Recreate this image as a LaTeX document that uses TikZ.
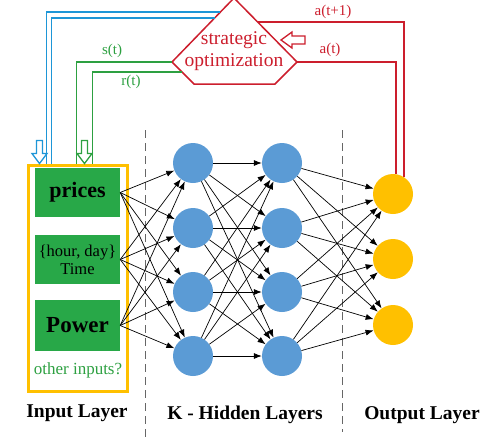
\documentclass[tikz,border=0pt]{standalone}
\usepackage{fontspec}
\setmainfont{Liberation Serif}
\usetikzlibrary{arrows.meta,calc,positioning}
\definecolor{optred}{RGB}{204,30,45}
\definecolor{fbblue}{RGB}{30,150,215}
\definecolor{fbgreen}{RGB}{45,160,65}
\definecolor{boxgreen}{RGB}{40,168,72}
\definecolor{hidblue}{RGB}{91,155,213}
\definecolor{outyellow}{RGB}{255,192,0}
\begin{document}
\begin{tikzpicture}[x=1pt,y=-1pt,
    neuron/.style={circle,fill=hidblue,minimum size=40pt,inner sep=0pt},
    outneuron/.style={neuron,fill=outyellow},
    inbox/.style={fill=boxgreen,minimum width=85pt,minimum height=49pt,inner sep=0pt,align=center},
    link/.style={-{Latex[length=8pt,width=6pt]},line width=0.7pt},
    layername/.style={font=\fontsize{19.5}{22}\selectfont\bfseries},
    fblabel/.style={font=\fontsize{15}{17}\selectfont},
    fbline/.style={line width=1.8pt}
  ]
  \useasboundingbox (0,0) rectangle (503,439);

  % layer separators
  \draw [dashed,gray!80!black,line width=0.8pt,dash pattern=on 8pt off 5pt]
    (145,130) -- (145,439)
    (342,130) -- (342,432);

  % input layer
  \node [draw=outyellow,line width=3pt,minimum width=99pt,minimum height=226pt] (inlayer) at (77.5,278) {};
  \node [inbox] (prices) at (77.5,192.5) {\fontsize{22}{24}\selectfont\bfseries prices};
  \node [inbox,font=\fontsize{16.5}{17}\selectfont] (time) at (77.5,259.5) {\{hour, day\}\\[1pt]Time};
  \node [inbox,minimum height=51pt] (power) at (77.5,325.5) {\fontsize{23}{25}\selectfont\bfseries Power};
  \node [text=fbgreen,font=\fontsize{17}{19}\selectfont] (other) at (78,370) {other inputs?};

  % hidden and output layers
  \foreach \y [count=\j] in {163,228,292,356} {
    \node [neuron] (h1-\j) at (193,\y) {};
    \node [neuron] (h2-\j) at (282,\y) {};
  }
  \foreach \y [count=\j] in {194,259,325}
    \node [outneuron] (o-\j) at (393,\y) {};

  \foreach \s in {prices,time,power}
    \foreach \j in {1,...,4}
      \draw [link] (\s.east) -- (h1-\j);
  \foreach \i in {1,...,4} {
    \foreach \j in {1,...,4}
      \draw [link] (h1-\i) -- (h2-\j);
    \foreach \j in {1,...,3}
      \draw [link] (h2-\i) -- (o-\j);
  }

  \node [layername] at (77,413) {Input Layer};
  \node [layername] at (245,415) {K - Hidden Layers};
  \node [layername] at (422,415) {Output Layer};

  % strategic optimization
  \draw [optred,line width=1.5pt]
    (234,-2) coordinate (optT)
    -- (297,62) coordinate (optR)
    -- (275,84) -- (194,84)
    -- (172,62) coordinate (optL) -- cycle;
  \node [text=optred,align=center,font=\fontsize{19.5}{22}\selectfont] (opt) at (234,51) {strategic\\optimization};
  \draw [optred,line width=1.3pt,fill=white]
    (281,40) coordinate (tipR) -- ++(11,-8) -- ++(0,4) -- ++(13,0) -- ++(0,8)
    -- ++(-13,0) -- ++(0,4) -- cycle;

  % feedback lines
  \draw [fbline,optred]
    (258,22) coordinate (aNext) -| (o-1.57)
    (optR) -| (o-1.81);
  \draw [fbline,fbblue]
    (220,12) coordinate (bOut) -| ($(inlayer.north west)+(20,0)$)
    (215,18) coordinate (bIn) -| ($(inlayer.north west)+(25,0)$);
  \draw [fbline,fbgreen]
    (optL) -| ($(inlayer.north west)+(50,0)$)
    (182,72) coordinate (rOut) -| ($(inlayer.north west)+(66,0)$);

  \draw [fbblue,line width=1.3pt,fill=white]
    ($(inlayer.north west)+(13,0)$) coordinate (tipB) -- ++(-7.5,-10) -- ++(4.5,0) -- ++(0,-13)
    -- ++(6,0) -- ++(0,13) -- ++(4.5,0) -- cycle;
  \draw [fbgreen,line width=1.3pt,fill=white]
    ($(inlayer.north west)+(58,0)$) coordinate (tipG) -- ++(-7.5,-10) -- ++(4.5,0) -- ++(0,-13)
    -- ++(6,0) -- ++(0,13) -- ++(4.5,0) -- cycle;

  \node [fblabel,text=optred] at (333,12) {a(t+1)};
  \node [fblabel,text=optred] at (330,50) {a(t)};
  \node [fblabel,text=fbgreen] at (112,51) {s(t)};
  \node [fblabel,text=fbgreen] at (131,82) {r(t)};
\end{tikzpicture}
\end{document}
